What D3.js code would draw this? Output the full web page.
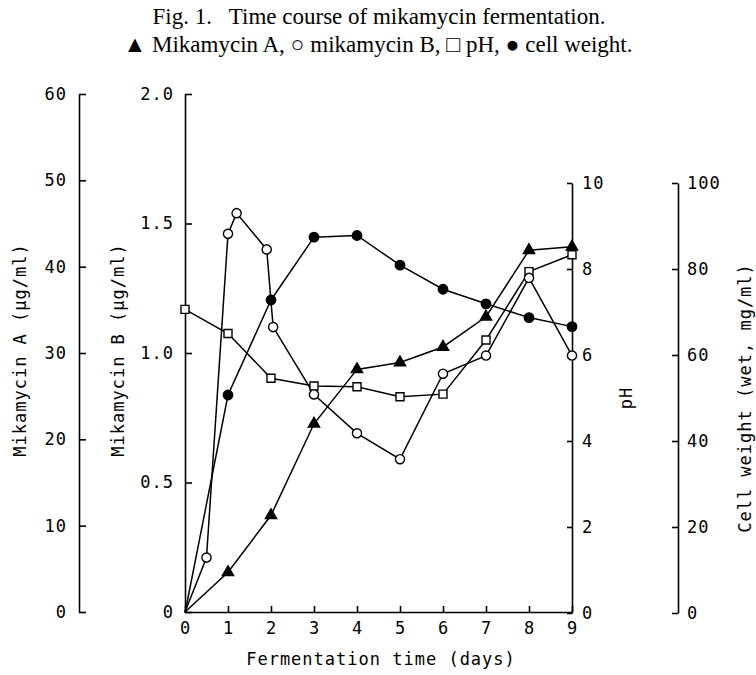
<!DOCTYPE html>
<html lang="en">
<head>
    <meta charset="UTF-8" />
    <title>Time course of mikamycin fermentation</title>
    <script src="https://d3js.org/d3.v7.min.js"></script>
    <style>
        body { margin: 0; background: #fff; }
        .title { font-family: "Liberation Serif", "Times New Roman", serif; font-size: 23px; }
        .axis text, .lab { font-family: "DejaVu Sans Mono", monospace; font-size: 17px; fill: #000; }
        .axis path, .axis line { stroke: #000; stroke-width: 1.6px; }
        .series { fill: none; stroke: #000; stroke-width: 1.5px; }
    </style>
</head>
<body>
<script>
    // values
    const days = [0, 1, 2, 3, 4, 5, 6, 7, 8, 9];
    const mikA = [0, 4.6, 11.2, 21.8, 28.1, 28.9, 30.7, 34.2, 41.9, 42.3];      // µg/ml
    const daysB = [0, 0.5, 1.0, 1.2, 1.9, 2.05, 3, 4, 5, 6, 7, 8, 9];
    const mikB = [0, 0.21, 1.46, 1.54, 1.40, 1.10, 0.84, 0.69, 0.59, 0.92, 0.99, 1.29, 0.99]; // µg/ml
    const pH = [7.06, 6.5, 5.46, 5.28, 5.26, 5.03, 5.09, 6.35, 7.94, 8.33];
    const cellWt = [0, 50.7, 72.8, 87.4, 87.8, 80.9, 75.3, 71.9, 68.7, 66.6]; // wet, mg/ml

    const W = 756, H = 675;
    const svg = d3.select("body").append("svg").attr("width", W).attr("height", H);

    // title
    svg.append("text").attr("class", "title").attr("x", 379).attr("y", 24)
        .attr("text-anchor", "middle").attr("xml:space", "preserve")
        .text("Fig. 1.   Time course of mikamycin fermentation.");
    svg.append("text").attr("class", "title").attr("x", 378).attr("y", 52)
        .attr("text-anchor", "middle")
        .text("\u25B2 Mikamycin A, \u25CB mikamycin B, \u25A1 pH, \u25CF cell weight.");

    // scales
    const x = d3.scaleLinear().domain([0, 9]).range([185, 572]);
    const yA = d3.scaleLinear().domain([0, 60]).range([612, 94]);
    const yB = d3.scaleLinear().domain([0, 2]).range([612, 94]);
    const yPH = d3.scaleLinear().domain([0, 10]).range([613, 183]);
    const yCW = d3.scaleLinear().domain([0, 100]).range([613, 183]);

    // axes
    svg.append("g").attr("class", "axis").attr("transform", "translate(79,0)")
        .call(d3.axisLeft(yA).tickValues([0, 10, 20, 30, 40, 50, 60]).tickSizeInner(-7).tickSizeOuter(0).tickPadding(12));
    svg.append("g").attr("class", "axis").attr("transform", "translate(185,0)")
        .call(d3.axisLeft(yB).tickValues([0, 0.5, 1, 1.5, 2]).tickFormat(d => d === 0 ? "0" : d3.format(".1f")(d))
            .tickSizeInner(-7).tickSizeOuter(0).tickPadding(11));
    svg.append("g").attr("class", "axis").attr("transform", "translate(0,612)")
        .call(d3.axisBottom(x).tickValues(days).tickSizeInner(-6).tickSizeOuter(0).tickPadding(10));
    svg.append("g").attr("class", "axis").attr("transform", "translate(572,0)")
        .call(d3.axisRight(yPH).tickValues([0, 2, 4, 6, 8, 10]).tickSizeInner(-5).tickSizeOuter(0).tickPadding(10));
    svg.append("g").attr("class", "axis").attr("transform", "translate(678,0)")
        .call(d3.axisRight(yCW).tickValues([0, 20, 40, 60, 80, 100]).tickSizeInner(-6).tickSizeOuter(0).tickPadding(9));
    svg.selectAll(".axis text").attr("letter-spacing", 1);

    // axis titles
    const vlab = (tx, ty, s) => svg.append("text").attr("class", "lab")
        .attr("transform", `translate(${tx},${ty}) rotate(-90)`)
        .attr("text-anchor", "middle").attr("letter-spacing", 1).text(s);
    vlab(26, 350, "Mikamycin A (\u03BCg/ml)");
    vlab(124, 350, "Mikamycin B (\u03BCg/ml)");
    vlab(632, 398, "pH");
    vlab(751, 398, "Cell weight (wet, mg/ml)");
    svg.append("text").attr("class", "lab").attr("x", 381).attr("y", 665)
        .attr("text-anchor", "middle").attr("letter-spacing", 1).text("Fermentation time (days)");

    // series
    const sA = days.map((d, i) => [x(d), yA(mikA[i])]);
    const sB = daysB.map((d, i) => [x(d), yB(mikB[i])]);
    const sPH = days.map((d, i) => [x(d), yPH(pH[i])]);
    const sCW = days.map((d, i) => [x(d), yCW(cellWt[i])]);
    const line = d3.line();
    [sA, sB, sPH, sCW].forEach(s => svg.append("path").attr("class", "series").attr("d", line(s)));

    const mark = (pts, type, size, fill) => svg.append("g").selectAll("path")
        .data(pts).join("path")
        .attr("transform", d => `translate(${d[0]},${d[1]})`)
        .attr("d", d3.symbol().type(type).size(size))
        .attr("fill", fill).attr("stroke", "#000").attr("stroke-width", 1.4);

    mark(sPH, d3.symbolSquare, 64, "#fff");
    mark(sB.slice(1), d3.symbolCircle, 66, "#fff");
    mark(sCW.slice(1), d3.symbolCircle, 70, "#000");
    mark(sA.slice(1), d3.symbolTriangle, 55, "#000");
</script>
</body>
</html>
